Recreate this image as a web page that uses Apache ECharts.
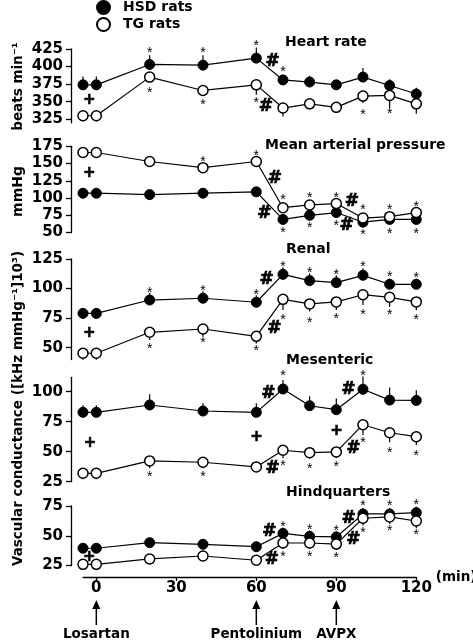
<!DOCTYPE html>
<html><head><meta charset="utf-8">
<script src="https://cdn.jsdelivr.net/npm/echarts@6/dist/echarts.min.js"></script>
<style>html,body{margin:0;padding:0;background:#fff}#c{width:473px;height:640px}</style>
</head><body><div id="c"></div>
<script>
// ---------- data ----------
const times = [-5, 0, 20, 40, 60, 70, 80, 90, 100, 110, 120];
const xTicks = [0, 30, 60, 90, 120];
const seriesNames = ['HSD rats', 'TG rats'];
const panelTitles = ['Heart rate', 'Mean arterial pressure', 'Renal', 'Mesenteric', 'Hindquarters'];

const hrHSD = [374, 374, 403, 402, 412, 381, 378, 374, 385, 373, 361];
const hrTG = [330, 330, 385, 366, 374, 341, 347, 342, 358, 359, 347];
const hrHSDerr = [12, 12, 13, 14, 15, 6, 9, 7, 13, 9, 9];
const hrTGerr = [8, 8, 4, 5, 14, 12, 8, 8, 10, 18, 14];
const hrTicks = [325, 350, 375, 400, 425];

const mapHSD = [107, 107, 105, 107, 109, 69, 75, 79, 65, 69, 69];
const mapTG = [166, 166, 153, 144, 153, 86, 90, 92, 71, 73, 79];
const mapHSDerr = [4, 4, 4, 4, 4, 3, 3, 3, 3, 3, 3];
const mapTGerr = [4, 4, 4, 4, 5, 4, 4, 4, 4, 4, 4];
const mapTicks = [50, 75, 100, 125, 150, 175];

const renHSD = [79, 79, 90.3, 91.8, 88.4, 112, 106.7, 105, 111.2, 103.6, 103.6];
const renTG = [45.3, 45.3, 63, 65.8, 59.6, 90.9, 87, 88.7, 94.8, 92.6, 88.7];
const renHSDerr = [4, 4, 6, 6, 6, 6, 6, 6, 6, 5, 5];
const renTGerr = [5.6, 5.6, 6.5, 6.5, 6, 9, 6.5, 6.8, 8.7, 8, 7];
const renTicks = [50, 75, 100, 125];

const mesHSD = [82.8, 82.8, 88.9, 83.9, 82.8, 102.2, 88.3, 85, 102, 93, 92.7];
const mesTG = [32, 32, 42.3, 41.2, 37.3, 51.2, 49.2, 49.8, 72.5, 65.8, 62.5];
const mesHSDerr = [6, 6, 9, 6.4, 7.5, 7.5, 8, 9.4, 10.6, 10.5, 8.6];
const mesTGerr = [5, 5, 6, 5, 4, 6.7, 5, 5, 8.6, 8, 7];
const mesTicks = [25, 50, 75, 100];

const hqHSD = [39.5, 39.5, 44.2, 42.8, 40.8, 52, 49.5, 49, 68.3, 68.3, 69.4];
const hqTG = [26, 26, 30.5, 33, 29.4, 43.9, 43.9, 43, 64.7, 65.8, 62.4];
const hqHSDerr = [3, 3, 4, 3, 4, 5, 5, 5, 5, 5, 5];
const hqTGerr = [3, 3, 3, 3, 3, 5, 5, 5, 6, 6, 6];
const hqTicks = [25, 50, 75];

// significance marks: [time, value, symbol]
const hrNotes = [[20, 423.6, '*'], [40, 423.6, '*'], [60, 434, '*'], [70, 397.5, '*'], [66.1, 407, '#'],
  [20, 366.7, '*'], [40, 350, '*'], [60, 352.5, '*'], [63.6, 343, '#'], [100, 336, '*'], [110, 338, '*'], [-2.6, 352, '+']];
const mapNotes = [[40, 157.6, '*'], [60, 166.3, '*'], [67, 128.6, '#'], [70, 102, '*'], [80, 104.4, '*'], [90, 105.4, '*'],
  [95.8, 94.7, '#'], [100, 87.5, '*'], [110, 87.5, '*'], [120, 92.4, '*'], [63, 76.9, '#'],
  [70, 54.7, '*'], [80, 61, '*'], [90, 64.3, '*'], [93.9, 59.5, '#'], [100, 51.2, '*'], [110, 53.3, '*'], [120, 53.3, '*'], [-2.6, 135.9, '+']];
const renNotes = [[20, 99.4, '*'], [40, 100.8, '*'], [60, 97.4, '*'], [70, 121.4, '*'], [80, 116.3, '*'], [90, 114.3, '*'],
  [100, 120.8, '*'], [110, 112.9, '*'], [120, 112, '*'], [63.9, 107.2, '#'], [66.8, 66.4, '#'],
  [20, 51.5, '*'], [40, 57.1, '*'], [60, 50.4, '*'], [70, 76.2, '*'], [80, 73.4, '*'], [90, 76.8, '*'],
  [100, 80.5, '*'], [110, 80.5, '*'], [120, 76.2, '*'], [-2.6, 62.2, '+']];
const mesNotes = [[70, 116.2, '*'], [100, 116.2, '*'], [64.5, 98.7, '#'], [94.5, 101.4, '#'],
  [60.1, 62.5, '+'], [90.1, 67.3, '+'], [-2.4, 57, '+'], [96.4, 52.3, '#'], [66.1, 36.2, '#'],
  [20, 32, '*'], [40, 32, '*'], [70, 41.2, '*'], [80, 38.1, '*'], [90, 39.7, '*'], [100, 59.8, '*'], [110, 51.4, '*'], [120, 49.5, '*']];
const hqNotes = [[70, 60.5, '*'], [80, 57.6, '*'], [90, 57.1, '*'], [100, 77.8, '*'], [110, 77.8, '*'], [120, 78.6, '*'],
  [64.9, 53.4, '#'], [94.6, 64.7, '#'], [65.8, 29.6, '#'], [96.4, 46.4, '#'],
  [70, 35.3, '*'], [80, 35.3, '*'], [90, 33.8, '*'], [100, 54.8, '*'], [110, 57.1, '*'], [120, 53.4, '*'], [-2.6, 32.4, '+']];

const treatments = [[0, 'Losartan'], [60, 'Pentolinium'], [90, 'AVPX']];

// ---------- layout ----------
const FONT = 'DejaVu Sans';
const panels = [
  { hsd: hrHSD, tg: hrTG, he: hrHSDerr, te: hrTGerr, ticks: hrTicks, notes: hrNotes, min: 320, max: 425, top: 49, height: 73.8, title: [285, 34] },
  { hsd: mapHSD, tg: mapTG, he: mapHSDerr, te: mapTGerr, ticks: mapTicks, notes: mapNotes, min: 50, max: 175, top: 146.3, height: 86.25, title: [265, 137] },
  { hsd: renHSD, tg: renTG, he: renHSDerr, te: renTGerr, ticks: renTicks, notes: renNotes, min: 40, max: 125, top: 259, height: 100.5, title: [286, 241] },
  { hsd: mesHSD, tg: mesTG, he: mesHSDerr, te: mesTGerr, ticks: mesTicks, notes: mesNotes, min: 25, max: 112, top: 377.3, height: 104.4, title: [286, 352] },
  { hsd: hqHSD, tg: hqTG, he: hqHSDerr, te: hqTGerr, ticks: hqTicks, notes: hqNotes, min: 25, max: 75, top: 506, height: 59.5, title: [286, 484] }
];

const grid = [], xAxis = [], yAxis = [], series = [], title = [];
const last = panels.length - 1;
panels.forEach((p, i) => {
  grid.push({ left: 83, width: 333.3, top: p.top, height: p.height, outerBoundsMode: 'none', containLabel: false });
  title.push({ text: panelTitles[i], left: p.title[0], top: p.title[1], padding: 0,
    textStyle: { fontFamily: FONT, fontWeight: 'bold', fontSize: 14, color: '#000', lineHeight: 16 } });
  const showX = i === last;
  xAxis.push({
    type: 'value', gridIndex: i, min: -5, max: 120, show: showX, offset: 11.5,
    splitLine: { show: false },
    axisLine: { show: true, onZero: false, lineStyle: { color: '#000', width: 1.3 } },
    axisTick: { show: true, length: 4, customValues: xTicks, lineStyle: { color: '#000', width: 1.3 } },
    axisLabel: { customValues: xTicks, margin: 4, fontFamily: FONT, fontWeight: 'bold', fontSize: 15, color: '#000' },
    name: showX ? '(min)' : '', nameLocation: 'end', nameGap: 3,
    nameTextStyle: { fontFamily: FONT, fontWeight: 'bold', fontSize: 13.5, color: '#000', align: 'left', verticalAlign: 'middle', padding: [17, 0, 0, 0] }
  });
  yAxis.push({
    type: 'value', gridIndex: i, min: p.min, max: p.max, offset: 12,
    splitLine: { show: false },
    axisLine: { show: true, onZero: false, lineStyle: { color: '#000', width: 1.3 } },
    axisTick: { show: true, length: 5, customValues: p.ticks, lineStyle: { color: '#000', width: 1.3 } },
    axisLabel: { customValues: p.ticks, margin: 8, fontFamily: FONT, fontWeight: 'bold', fontSize: 15, color: '#000' }
  });
  const err = (vals, errs, dir) => ({
    type: 'custom', xAxisIndex: i, yAxisIndex: i, z: 1, silent: true, clip: false,
    encode: { x: 0, y: 1 },
    data: times.map((t, k) => [t, vals[k], vals[k] + dir * errs[k]]),
    renderItem: (params, api) => {
      const a = api.coord([api.value(0), api.value(1)]);
      const b = api.coord([api.value(0), api.value(2)]);
      return { type: 'line', shape: { x1: a[0], y1: a[1], x2: b[0], y2: b[1] }, style: { stroke: '#000', lineWidth: 1.2 } };
    }
  });
  series.push(err(p.hsd, p.he, 1));
  series.push(err(p.tg, p.te, -1));
  series.push({
    type: 'line', name: seriesNames[0], xAxisIndex: i, yAxisIndex: i, z: 3,
    data: times.map((t, k) => [t, p.hsd[k]]), symbol: 'circle', symbolSize: 10, showSymbol: true,
    itemStyle: { color: '#000', borderColor: '#000', borderWidth: 1 }, lineStyle: { color: '#000', width: 1.2 }
  });
  series.push({
    type: 'line', name: seriesNames[1], xAxisIndex: i, yAxisIndex: i, z: 3,
    data: times.map((t, k) => [t, p.tg[k]]), symbol: 'circle', symbolSize: 10, showSymbol: true,
    itemStyle: { color: '#fff', borderColor: '#000', borderWidth: 1.5 }, lineStyle: { color: '#000', width: 1.2 }
  });
  const noteStyle = {
    '*': { fontFamily: 'Liberation Sans', fontWeight: 'normal', fontSize: 14, offset: [0, 3.5], textBorderWidth: 0 },
    '#': { fontFamily: FONT, fontWeight: 'bold', fontSize: 17, offset: [0, 0], textBorderWidth: 0.7, textBorderColor: '#000' },
    '+': { fontFamily: FONT, fontWeight: 'bold', fontSize: 15, offset: [0, 0], textBorderWidth: 0.6, textBorderColor: '#000' }
  };
  series.push({
    type: 'scatter', xAxisIndex: i, yAxisIndex: i, z: 5, silent: true, clip: false, symbolSize: 0,
    itemStyle: { color: '#000', opacity: 1 },
    data: p.notes.map(n => ({
      value: [n[0], n[1]],
      label: Object.assign({ show: true, position: 'inside', formatter: n[2], color: '#000', opacity: 1,
        textBorderColor: 'transparent' }, noteStyle[n[2]])
    }))
  });
});

const chart = echarts.init(document.getElementById('c'), null, { renderer: 'canvas' });
chart.setOption({
  animation: false,
  backgroundColor: '#fff',
  title,
  legend: {
    data: [{ name: seriesNames[0], icon: 'circle' }, { name: seriesNames[1], icon: 'circle' }],
    orient: 'vertical', left: 91, top: -5, itemWidth: 13, itemHeight: 13, itemGap: 2,
    selectedMode: false,
    textStyle: { fontFamily: FONT, fontWeight: 'bold', fontSize: 14, color: '#000', padding: [0, 0, 0, 8] }
  },
  grid, xAxis, yAxis, series,
  graphic: [
    { type: 'text', x: 18, y: 86.5, rotation: Math.PI / 2,
      style: { text: 'beats min⁻¹', fontFamily: FONT, fontWeight: 'bold', fontSize: 13.5, fill: '#000', align: 'center', verticalAlign: 'middle' } },
    { type: 'text', x: 18, y: 191.5, rotation: Math.PI / 2,
      style: { text: 'mmHg', fontFamily: FONT, fontWeight: 'bold', fontSize: 14, fill: '#000', align: 'center', verticalAlign: 'middle' } },
    { type: 'text', x: 18, y: 408.5, rotation: Math.PI / 2,
      style: { text: 'Vascular conductance ([kHz mmHg⁻¹]10³)', fontFamily: FONT, fontWeight: 'bold', fontSize: 13.5, fill: '#000', align: 'center', verticalAlign: 'middle' } }
  ]
});

// treatment arrows below the time axis
const extra = [];
treatments.forEach(tr => {
  const x = chart.convertToPixel({ xAxisIndex: last }, tr[0]);
  extra.push({ type: 'line', shape: { x1: x, y1: 625, x2: x, y2: 607 }, style: { stroke: '#000', lineWidth: 1.5 } });
  extra.push({ type: 'polygon', shape: { points: [[x - 4, 609], [x + 4, 609], [x, 600]] }, style: { fill: '#000' } });
  extra.push({ type: 'text', x: x, y: 634, style: { text: tr[1], fontFamily: FONT, fontWeight: 'bold', fontSize: 13.5, fill: '#000', align: 'center', verticalAlign: 'middle' } });
});
const g = chart.getOption().graphic[0].elements.slice();
chart.setOption({ graphic: g.concat(extra) }, { replaceMerge: ['graphic'] });
</script>
</body></html>
